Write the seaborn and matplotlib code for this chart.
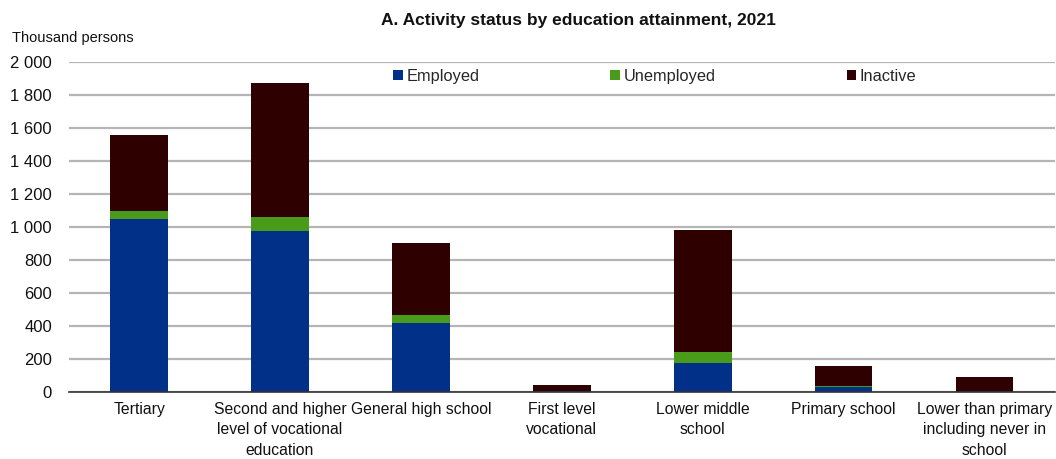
import matplotlib
matplotlib.use("Agg")
import matplotlib.pyplot as plt
import seaborn as sns
import pandas as pd
import numpy as np
from matplotlib.ticker import FuncFormatter, FixedLocator
from matplotlib.patches import Patch

categories = ["Tertiary",
              "Second and higher\nlevel of vocational\neducation",
              "General high school",
              "First level\nvocational",
              "Lower middle\nschool",
              "Primary school",
              "Lower than primary\nincluding never in\nschool"]
employed = [1048, 976, 418, 5, 176, 28, 5]
unemployed = [49, 84, 49, 2, 66, 7, 1]
inactive = [461, 813, 436, 35, 740, 122, 85]

series_names = ["Employed", "Unemployed", "Inactive"]
colors = {"Employed": "#003087", "Unemployed": "#4a9a1c", "Inactive": "#2e0000"}

sns.set_style("white")
plt.rcParams["font.family"] = ["Liberation Sans", "DejaVu Sans"]

df = pd.DataFrame({"cat": categories, "Employed": employed,
                   "Unemployed": unemployed, "Inactive": inactive})
df["lvl1"] = df["Employed"]
df["lvl2"] = df["Employed"] + df["Unemployed"]
df["lvl3"] = df["lvl2"] + df["Inactive"]

fig = plt.figure(figsize=(10.56, 4.59), dpi=100)
ax = fig.add_axes([0.065, 0.146, 0.934, 0.719])

for col, name in [("lvl3", "Inactive"), ("lvl2", "Unemployed"), ("lvl1", "Employed")]:
    sns.barplot(data=df, x="cat", y=col, color=colors[name], width=0.41,
                ax=ax, saturation=1, edgecolor="none", linewidth=0)

ax.set_ylim(0, 2000)
ax.set_xlim(-0.5, 6.5)
ax.yaxis.set_major_locator(FixedLocator(np.arange(0, 2001, 200)))
ax.yaxis.set_major_formatter(FuncFormatter(lambda v, p: f"{int(v):,}".replace(",", " ")))
ax.grid(axis="y", color="#b5b5b5", linewidth=1.6, zorder=0)
ax.set_axisbelow(True)
for s in ["top", "right", "left"]:
    ax.spines[s].set_visible(False)
ax.spines["bottom"].set_color("#333333")
ax.spines["bottom"].set_linewidth(1.2)

ax.set_xlabel("")
ax.set_ylabel("")
ax.tick_params(axis="y", length=0, labelsize=12, pad=12, labelcolor="#111111")
ax.tick_params(axis="x", which="major", length=0, labelsize=11.3, pad=7, labelcolor="#111111")
for lbl in ax.get_xticklabels():
    lbl.set_linespacing(1.45)
ax.set_xticks(np.arange(-0.5, 7.0, 1.0), minor=True)
ax.tick_params(axis="x", which="minor", length=5, direction="in", color="#333333", width=1.2)

handles = [Patch(facecolor=colors[n], edgecolor="none", label=n) for n in series_names]
ax.legend(handles=handles, loc="upper left", bbox_to_anchor=(0.329, 0.98), ncol=3,
          frameon=False, fontsize=11.8, handlelength=0.6, handleheight=0.6,
          handletextpad=0.2, columnspacing=8.0, borderaxespad=0, borderpad=0)

fig.text(0.548, 0.955, "A. Activity status by education attainment, 2021",
         ha="center", va="center", fontsize=12.5, fontweight="bold", color="#111111")
fig.text(0.011, 0.918, "Thousand persons", ha="left", va="center", fontsize=10.5, color="#111111")

fig.savefig("out.png", dpi=100)
